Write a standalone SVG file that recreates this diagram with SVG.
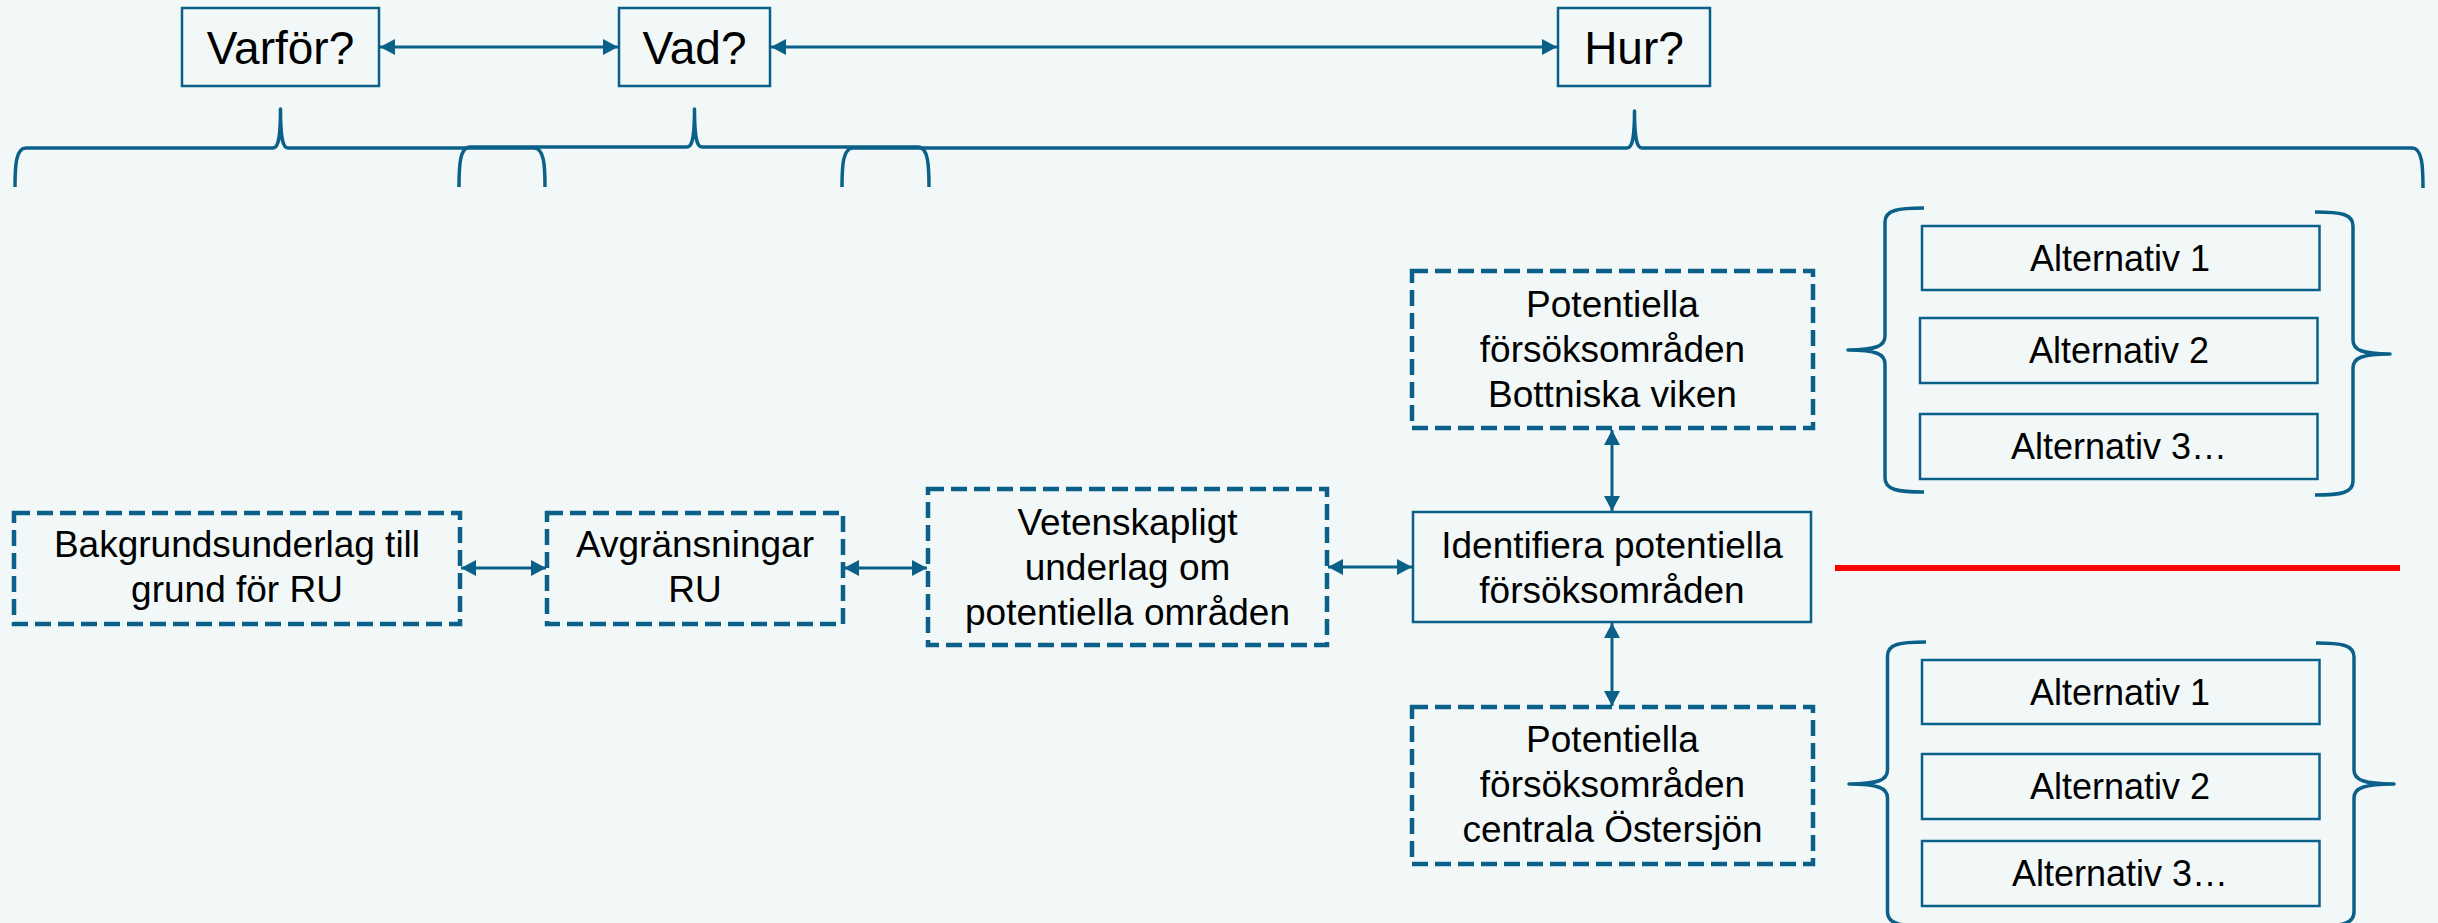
<svg xmlns="http://www.w3.org/2000/svg" width="2438" height="923" viewBox="0 0 2438 923">
<style>
text{font-family:"Liberation Sans",Arial,sans-serif;fill:#000;text-anchor:middle}
.t{font-size:37px}
.big{font-size:46px}
.alt{font-size:36px}
.solid{fill:none;stroke:#0b6089;stroke-width:2.5}
.dash{fill:none;stroke:#0b6089;stroke-width:4.5;stroke-dasharray:16 7}
.brace{fill:none;stroke:#0b6089;stroke-width:3.5;stroke-linejoin:round}
.conn{fill:none;stroke:#0b6089;stroke-width:3;marker-start:url(#ah);marker-end:url(#ah)}
</style>
<defs>
<marker id="ah" markerUnits="userSpaceOnUse" markerWidth="16" markerHeight="16" refX="15" refY="8" orient="auto-start-reverse">
<path d="M0,0 L15,8 L0,16 z" fill="#0b6089"/>
</marker>
</defs>
<rect width="2438" height="923" fill="#f2f8f8"/>

<g id="braces-top">
<path class="brace" d="M15 187 C15 165 16 148 26 148 L273 148 C279 148 280.5 135 280.5 109 C280.5 135 282 148 288 148 L534 148 C544 148 545 165 545 187"/>
<path class="brace" d="M459 187 C459 165 460 147 470 147 L687 147 C693 147 694.5 134 694.5 109 C694.5 134 696 147 702 147 L918 147 C928 147 929 165 929 187"/>
<path class="brace" d="M842 187 C842 165 843 148 853 148 L1627 148 C1633 148 1634.5 135 1634.5 111 C1634.5 135 1636 148 1642 148 L2412 148 C2422 148 2423 165 2423 188"/>
</g>

<g id="node-varfor"><rect class="solid" x="182" y="8" width="197" height="78"/><text class="big" x="280.5" y="64">Varför?</text></g>
<g id="node-vad"><rect class="solid" x="619" y="8" width="151" height="78"/><text class="big" x="694.5" y="64">Vad?</text></g>
<g id="node-hur"><rect class="solid" x="1558" y="8" width="152" height="78"/><text class="big" x="1634" y="64">Hur?</text></g>

<g id="node-bakgrund"><rect class="dash" x="14" y="513" width="446" height="111"/><text class="t" x="237" y="557">Bakgrundsunderlag till</text><text class="t" x="237" y="602">grund för RU</text></g>
<g id="node-avgr"><rect class="dash" x="547" y="513" width="296" height="111"/><text class="t" x="695" y="557">Avgränsningar</text><text class="t" x="695" y="602">RU</text></g>
<g id="node-vetensk"><rect class="dash" x="928" y="489" width="399" height="156"/><text class="t" x="1127.5" y="535">Vetenskapligt</text><text class="t" x="1127.5" y="580">underlag om</text><text class="t" x="1127.5" y="625">potentiella områden</text></g>
<g id="node-bottniska"><rect class="dash" x="1412" y="271" width="401" height="157"/><text class="t" x="1612.5" y="317">Potentiella</text><text class="t" x="1612.5" y="362">försöksområden</text><text class="t" x="1612.5" y="407">Bottniska viken</text></g>
<g id="node-identifiera"><rect class="solid" x="1413" y="512" width="398" height="110"/><text class="t" x="1612" y="558">Identifiera potentiella</text><text class="t" x="1612" y="603">försöksområden</text></g>
<g id="node-ostersjon"><rect class="dash" x="1412" y="707" width="401" height="157"/><text class="t" x="1612.5" y="752">Potentiella</text><text class="t" x="1612.5" y="797">försöksområden</text><text class="t" x="1612.5" y="842">centrala Östersjön</text></g>

<g id="group-alt-top">
<path class="brace" d="M1924 208 C1898 208 1885 210 1885 222 L1885 336 C1885 346 1876 350 1848 350 C1876 350 1885 354 1885 364 L1885 478 C1885 490 1898 492 1924 492"/>
<path class="brace" d="M2315 212 C2341 212 2353 214 2353 226 L2353 340 C2353 350 2362 354 2390 354 C2362 354 2353 358 2353 368 L2353 481 C2353 493 2341 495 2315 495"/>
<g id="alt-top-1"><rect class="solid" x="1922" y="226" width="397.5" height="64" stroke-width="2"/><text class="alt" x="2120" y="271">Alternativ 1</text></g>
<g id="alt-top-2"><rect class="solid" x="1920" y="318" width="397.5" height="65" stroke-width="2"/><text class="alt" x="2119" y="363">Alternativ 2</text></g>
<g id="alt-top-3"><rect class="solid" x="1920" y="414" width="397.5" height="65" stroke-width="2"/><text class="alt" x="2119" y="459">Alternativ 3…</text></g>
</g>

<g id="group-alt-bottom">
<path class="brace" d="M1926 642 C1900 642 1887.5 644 1887.5 656 L1887.5 770 C1887.5 780 1878 784 1849 784 C1878 784 1887.5 788 1887.5 798 L1887.5 912 C1887.5 924 1900 926 1926 926"/>
<path class="brace" d="M2316 643 C2342 643 2354 645 2354 657 L2354 770 C2354 780 2364 784 2394 784 C2364 784 2354 788 2354 798 L2354 912 C2354 924 2342 926 2316 926"/>
<g id="alt-bot-1"><rect class="solid" x="1922" y="660" width="397.5" height="64" stroke-width="2"/><text class="alt" x="2120" y="705">Alternativ 1</text></g>
<g id="alt-bot-2"><rect class="solid" x="1922" y="754" width="397.5" height="65" stroke-width="2"/><text class="alt" x="2120" y="799">Alternativ 2</text></g>
<g id="alt-bot-3"><rect class="solid" x="1922" y="841" width="397.5" height="65" stroke-width="2"/><text class="alt" x="2120" y="886">Alternativ 3…</text></g>
</g>

<g id="connectors">
<line class="conn" x1="380" y1="47" x2="618" y2="47"/>
<line class="conn" x1="771" y1="47" x2="1557" y2="47"/>
<line class="conn" x1="461" y1="568" x2="546" y2="568"/>
<line class="conn" x1="844" y1="568" x2="927" y2="568"/>
<line class="conn" x1="1328" y1="567" x2="1412" y2="567"/>
<line class="conn" x1="1612" y1="430" x2="1612" y2="511"/>
<line class="conn" x1="1612" y1="623" x2="1612" y2="706"/>
<line x1="1835" y1="568" x2="2400" y2="568" stroke="#ff0000" stroke-width="6"/>
</g>
</svg>
